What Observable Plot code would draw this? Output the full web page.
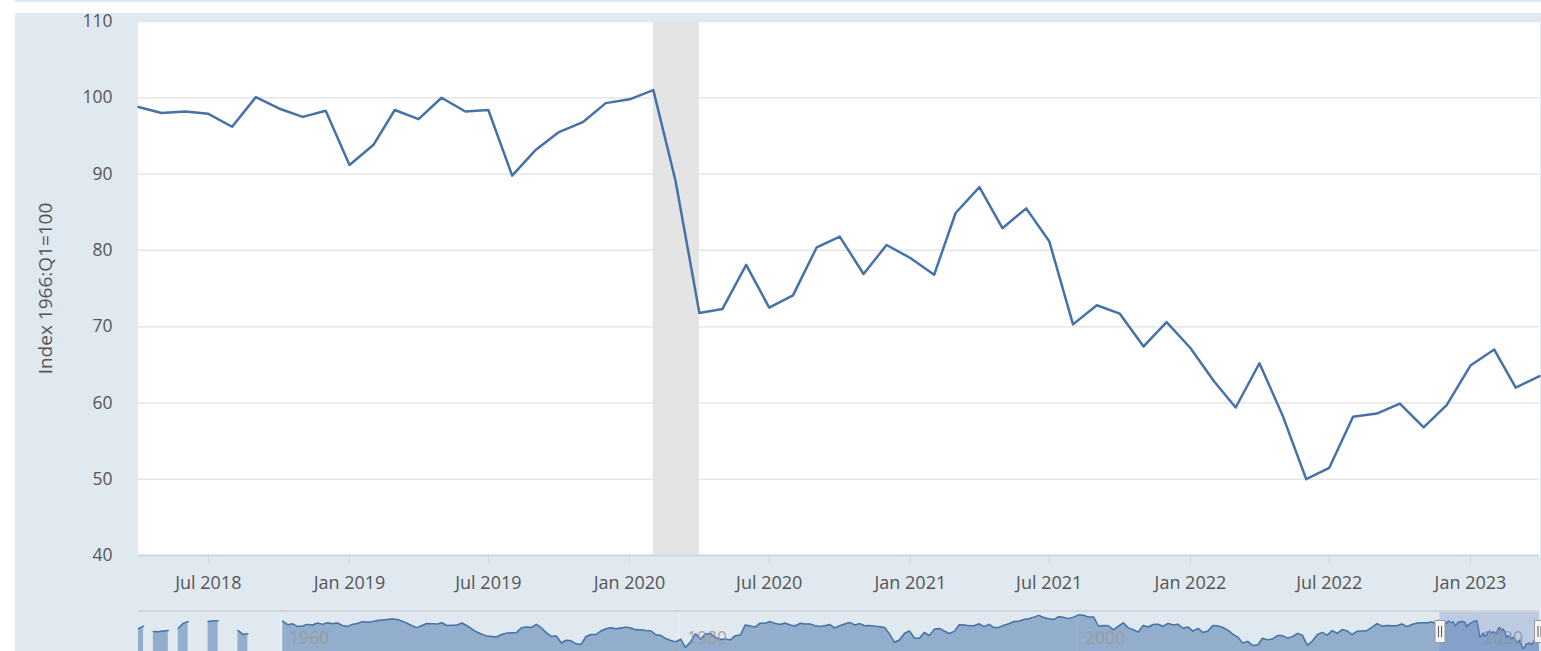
<!DOCTYPE html>
<html>
<head>
<meta charset="utf-8">
<script src="https://cdn.jsdelivr.net/npm/d3@7"></script>
<script src="https://cdn.jsdelivr.net/npm/@observablehq/plot@0.6"></script>
<style>
  html, body { margin: 0; padding: 0; background: #ffffff; width: 1541px; height: 651px; overflow: hidden; font-family: "Open Sans", sans-serif; }
  #topline { position: absolute; left: 15px; top: 0; width: 1526px; height: 2px; background: #dfe6ee; }
  #panel { position: absolute; left: 15px; top: 13px; width: 1526px; height: 638px; background: #e1e9f0; overflow: visible; }
  #main { position: absolute; left: 0; top: 0; }
  #nav { position: absolute; left: 0; top: 598px; }
  #navborder { position: absolute; left: 123px; top: 597px; width: 1401px; height: 2px; background: #d2d6db; }
</style>
</head>
<body>
<div id="topline"></div>
<div id="panel"><div id="main"></div><div id="nav"></div><div id="navborder"></div></div>
<script>
// ---------- main series: University of Michigan consumer sentiment, monthly ----------
const mainStart = "2018-04";
const sentiment = [
  98.8, 98.0, 98.2, 97.9, 96.2, 100.1, 98.6, 97.5, 98.3,                 // 2018 Apr–Dec
  91.2, 93.8, 98.4, 97.2, 100.0, 98.2, 98.4, 89.8, 93.2, 95.5, 96.8, 99.3, // 2019
  99.8, 101.0, 89.1, 71.8, 72.3, 78.1, 72.5, 74.1, 80.4, 81.8, 76.9, 80.7, // 2020
  79.0, 76.8, 84.9, 88.3, 82.9, 85.5, 81.2, 70.3, 72.8, 71.7, 67.4, 70.6,  // 2021
  67.2, 62.8, 59.4, 65.2, 58.4, 50.0, 51.5, 58.2, 58.6, 59.9, 56.8, 59.7,  // 2022
  64.9, 67.0, 62.0, 63.5                                                   // 2023 Jan–Apr
];
const xTickLabels = ["Jul 2018", "Jan 2019", "Jul 2019", "Jan 2020", "Jul 2020", "Jan 2021", "Jul 2021", "Jan 2022", "Jul 2022", "Jan 2023"];
const yTicks = [40, 50, 60, 70, 80, 90, 100, 110];
const yDomain = [40, 110];
const yTitle = "Index 1966:Q1=100";
const recessionStart = "2020-02";
const recessionEnd = "2020-04";

// ---------- navigator: full history ----------
const navEarlyDates  = ["1952-11", "1953-02", "1953-05", "1953-08", "1953-11", "1954-02", "1954-05", "1954-08", "1954-11", "1955-02", "1955-05", "1955-08", "1956-05", "1956-08", "1956-11", "1957-05", "1957-11", "1958-02", "1958-05", "1958-08"];
const navEarlyValues = [86.2, 90.7, null, 80.8, 80.7, 82.0, 82.9, null, 87.0, 95.9, 99.1, null, 99.3, 100.4, 100.6, null, 82.9, 75.7, 77.0, null];
const navQuarterStart = "1960-02";
const navQuarterly = [
  100.0, 93.5, 95.0, 90.0,   91.0, 94.0, 93.0, 96.5,   94.0, 97.0, 95.0, 96.5,   92.0, 90.0, 94.0, 95.5,   // 1960-63
  99.0, 98.0, 99.0, 101.0,   102.0, 103.0, 104.0, 103.0, 100.0, 96.0, 91.5, 88.0, 92.0, 95.5, 95.0, 94.5,  // 1964-67
  97.0, 92.0, 92.5, 92.5,    96.5, 92.0, 86.0, 80.0,   76.0, 73.0, 72.0, 71.0,   75.5, 78.0, 78.5, 79.0,   // 1968-71
  88.0, 89.0, 88.5, 94.0,    87.5, 79.0, 72.0, 73.0,   60.0, 65.0, 64.0, 58.0,   57.6, 72.0, 75.5, 75.5,   // 1972-75
  82.0, 86.0, 88.0, 86.0,    87.5, 89.0, 87.5, 84.0,   84.3, 82.9, 82.4, 75.0,   73.9, 68.1, 64.5, 62.1,   // 1976-79
  66.9, 51.7, 62.3, 76.7,    66.9, 76.3, 77.2, 70.3,   66.5, 67.5, 65.4, 73.4,   74.6, 92.8, 90.9, 89.3,   // 1980-83
  96.1, 96.1, 99.1, 95.7,    93.7, 96.5, 92.8, 91.0,   95.9, 94.8, 94.9, 91.4,   90.2, 91.5, 93.7, 87.3,   // 1984-87
  91.6, 94.7, 97.4, 93.0,    95.4, 91.5, 92.0, 90.8,   89.5, 88.3, 76.4, 61.3,   65.4, 77.3, 82.0, 69.1,   // 1988-91
  68.8, 79.3, 73.4, 85.3,    86.6, 81.9, 77.3, 81.2,   93.2, 92.8, 91.7, 91.6,   95.1, 89.8, 94.0, 88.2,   // 1992-95
  88.5, 92.4, 95.3, 99.2,    99.7, 103.0, 104.4, 107.2, 110.4, 106.5, 104.4, 102.7, 108.1, 106.8, 104.5, 107.2, // 1996-99
  111.3, 110.7, 107.3, 107.6, 90.6, 92.0, 91.5, 83.9,  90.7, 96.9, 87.6, 84.2,   79.9, 92.1, 89.3, 93.7,   // 2000-03
  94.4, 90.2, 95.9, 92.8,    94.1, 86.9, 89.1, 81.6,   86.7, 79.1, 82.0, 92.1,   91.3, 88.3, 83.4, 76.1,   // 2004-07
  70.8, 59.8, 63.0, 55.3,    56.3, 68.7, 65.7, 67.4,   73.6, 73.6, 68.9, 71.6,   77.5, 74.3, 55.8, 63.7,   // 2008-11
  75.3, 79.3, 74.3, 82.7,    77.6, 84.5, 82.1, 75.1,   81.6, 81.9, 82.5, 88.8,   95.4, 90.7, 91.9, 91.3,   // 2012-15
  91.7, 94.7, 89.8, 93.8,    96.3, 97.1, 96.8, 98.5                                                       // 2016-17
];
const navMonthlyStart = "2018-01";
const navMonthly2018 = [95.7, 99.7, 101.4]; // Jan–Mar 2018, then the main series
const navYearLabels = ["1960", "1980", "2000", "2020"];
const navYDomain = [44.5, 117.5];

// ---------- build data ----------
const parse = d3.utcParse("%Y-%m");
const mainData = sentiment.map((v, i) => ({date: d3.utcMonth.offset(parse(mainStart), i), value: v}));
const xTicks = xTickLabels.map(d3.utcParse("%b %Y"));

const navData = [
  ...navEarlyDates.map((d, i) => ({date: parse(d), value: navEarlyValues[i]})),
  ...navQuarterly.map((v, i) => ({date: d3.utcMonth.offset(parse(navQuarterStart), 3 * i), value: v})),
  ...navMonthly2018.map((v, i) => ({date: d3.utcMonth.offset(parse(navMonthlyStart), i), value: v})),
  ...mainData
];
const navYearDates = navYearLabels.map(d3.utcParse("%Y"));
const selection = [{start: mainData[0].date, end: mainData[mainData.length - 1].date}];
const selEdges = [selection[0].start, selection[0].end];

const font = "'Open Sans', sans-serif";

const main = Plot.plot({
  width: 1526, height: 598,
  marginLeft: 123, marginRight: 2, marginTop: 8, marginBottom: 56,
  style: {background: "transparent", fontFamily: font, overflow: "visible"},
  x: {type: "utc", domain: [mainData[0].date, mainData[mainData.length - 1].date]},
  y: {domain: yDomain},
  marks: [
    Plot.frame({fill: "white", stroke: "white"}),
    Plot.gridY(yTicks, {stroke: "#e6e6e6", strokeOpacity: 1, strokeWidth: 1.5}),
    Plot.rect([{s: recessionStart, e: recessionEnd}], {x1: d => parse(d.s), x2: d => parse(d.e), fill: "#e4e4e4"}),
    Plot.ruleY([yDomain[0]], {stroke: "#ccd6eb", strokeWidth: 2}),
    Plot.axisX(xTicks, {tickFormat: d3.utcFormat("%b %Y"), tickSize: 9, tickPadding: 12, stroke: "#ccd6eb", fill: "#555", fontSize: 18, label: null}),
    Plot.axisY(yTicks, {tickSize: 0, tickPadding: 26, fill: "#555", fontSize: 17.5, label: null}),
    Plot.text([yTitle], {frameAnchor: "left", textAnchor: "middle", lineAnchor: "middle", rotate: -90, dx: -93, fontSize: 19, fill: "#555"}),
    Plot.line(mainData, {x: "date", y: "value", stroke: "#4572a7", strokeWidth: 2.5, strokeLinejoin: "round"})
  ]
});
document.getElementById("main").appendChild(main);

const nav = Plot.plot({
  width: 1526, height: 40,
  marginLeft: 123, marginRight: 2, marginTop: 0, marginBottom: 0,
  style: {background: "transparent", fontFamily: font},
  x: {type: "utc", domain: [navData[0].date, navData[navData.length - 1].date], axis: null},
  y: {domain: navYDomain, axis: null},
  marks: [
    Plot.ruleX(navYearDates, {x: d => d, stroke: "#ffffff", strokeOpacity: 0.35}),
    Plot.areaY(navData, {x: "date", y1: navYDomain[0], y2: "value", fill: "#4572a7", fillOpacity: 0.5}),
    Plot.lineY(navData, {x: "date", y: "value", stroke: "#4572a7", strokeWidth: 1.5}),
    Plot.text(navYearDates, {x: d => d, text: d => String(d.getUTCFullYear()), frameAnchor: "top", lineAnchor: "middle", dy: 27, dx: 8, textAnchor: "start", fontSize: 17.5, fill: "#999", fillOpacity: 0.85}),
    Plot.rect(selection, {x1: "start", x2: "end", fill: "rgb(102,133,194)", fillOpacity: 0.3}),
    Plot.tickX(selEdges, {x: d => d, stroke: "#9a9a9a", strokeWidth: 11, insetTop: 9, insetBottom: 8}),
    Plot.tickX(selEdges, {x: d => d, stroke: "#f4f4f4", strokeWidth: 9, insetTop: 10, insetBottom: 9}),
    Plot.tickX(selEdges, {x: d => d, dx: -1.5, stroke: "#555", strokeWidth: 1, insetTop: 15, insetBottom: 14}),
    Plot.tickX(selEdges, {x: d => d, dx: 1.5, stroke: "#555", strokeWidth: 1, insetTop: 15, insetBottom: 14})
  ]
});
document.getElementById("nav").appendChild(nav);
</script>
</body>
</html>
